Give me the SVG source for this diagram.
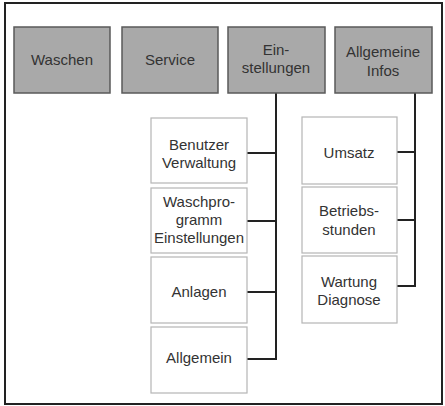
<svg xmlns="http://www.w3.org/2000/svg" width="445" height="406" viewBox="0 0 445 406">
<style>
.top rect{fill:#a9a9a9;stroke:#5a5a5a;stroke-width:1.5}
.sub rect{fill:#fff;stroke:#b5b5b5;stroke-width:1.2}
text{font-family:"Liberation Sans",Arial,sans-serif;font-size:15px;fill:#333;text-anchor:middle}
#connectors path{fill:none;stroke:#222;stroke-width:2}
</style>
<rect x="5" y="3" width="437" height="401" fill="#fff" stroke="#222" stroke-width="2"/>
<g id="connectors">
<path d="M276 93V360M247 153H276M247 221H276M247 292H276M247 359H276"/>
<path d="M415 93V287M397 152H415M397 220H415M397 286H415"/>
</g>
<g id="waschen" class="top"><rect x="14" y="27" width="96" height="66"/><text x="62" y="65">Waschen</text></g>
<g id="service" class="top"><rect x="122" y="27" width="96" height="66"/><text x="170" y="65">Service</text></g>
<g id="einstellungen" class="top"><rect x="228" y="27" width="97" height="66"/><text x="276" y="55">Ein-</text><text x="276" y="73">stellungen</text></g>
<g id="allgemeine-infos" class="top"><rect x="335" y="27" width="97" height="66"/><text x="383" y="57">Allgemeine</text><text x="383" y="76">Infos</text></g>
<g id="benutzer" class="sub"><rect x="151" y="118" width="96" height="65"/><text x="199" y="150">Benutzer</text><text x="199" y="168">Verwaltung</text></g>
<g id="waschprogramm" class="sub"><rect x="151" y="188" width="96" height="65"/><text x="199" y="207">Waschpro-</text><text x="199" y="225">gramm</text><text x="199" y="243">Einstellungen</text></g>
<g id="anlagen" class="sub"><rect x="151" y="257" width="96" height="66"/><text x="199" y="297">Anlagen</text></g>
<g id="allgemein" class="sub"><rect x="151" y="327" width="96" height="66"/><text x="199" y="363">Allgemein</text></g>
<g id="umsatz" class="sub"><rect x="302" y="117" width="95" height="67"/><text x="349" y="158">Umsatz</text></g>
<g id="betriebsstunden" class="sub"><rect x="302" y="187" width="95" height="66"/><text x="349" y="216">Betriebs-</text><text x="349" y="235">stunden</text></g>
<g id="wartung" class="sub"><rect x="302" y="256" width="95" height="67"/><text x="349" y="287">Wartung</text><text x="349" y="305">Diagnose</text></g>
</svg>
